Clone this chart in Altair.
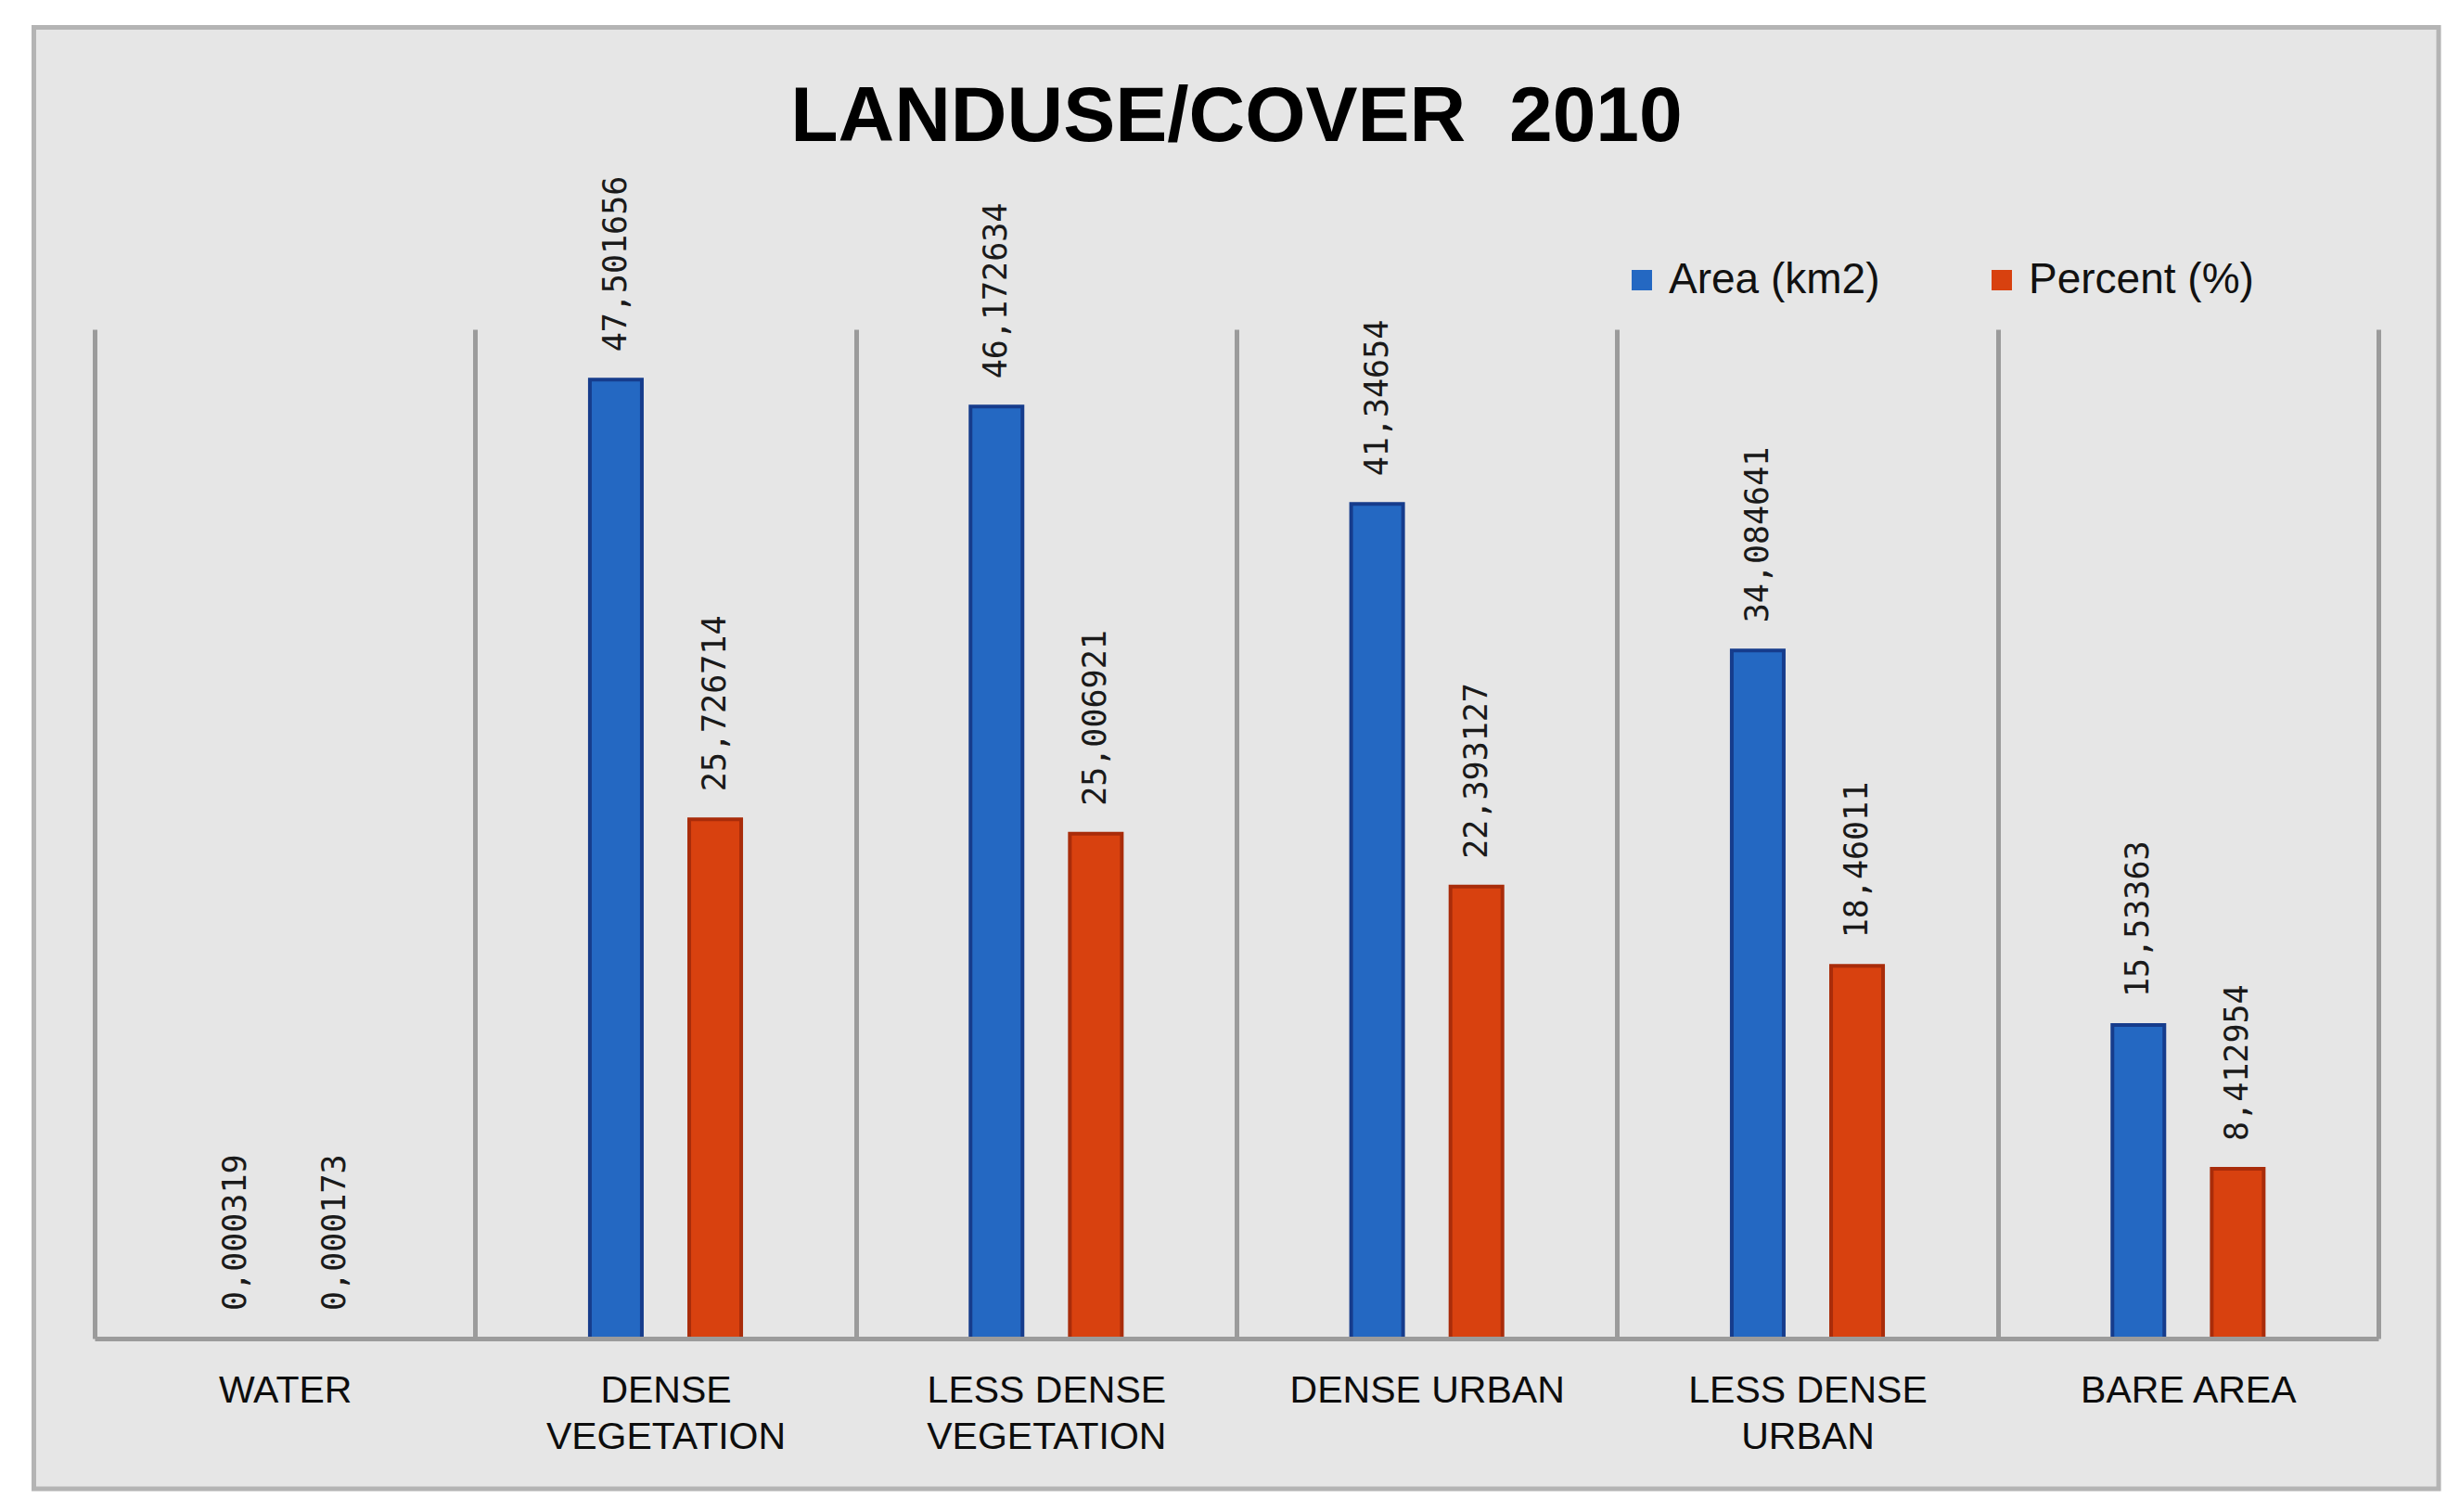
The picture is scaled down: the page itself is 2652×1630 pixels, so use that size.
import altair as alt
import pandas as pd

categories = ["WATER", "DENSE\nVEGETATION", "LESS DENSE\nVEGETATION",
              "DENSE URBAN", "LESS DENSE\nURBAN", "BARE AREA"]
area_km2 = [0.000319, 47.501656, 46.172634, 41.34654, 34.084641, 15.53363]
percent = [0.000173, 25.726714, 25.006921, 22.393127, 18.46011, 8.412954]
series = ["Area (km2)", "Percent (%)"]
title_text = "LANDUSE/COVER \u00a02010"

rows = []
for c, a, p in zip(categories, area_km2, percent):
    rows.append({"category": c, "series": series[0], "value": a})
    rows.append({"category": c, "series": series[1], "value": p})
df = pd.DataFrame(rows)

W, H = 2462, 1088

xenc = alt.X("category:N", sort=categories, title=None,
             scale=alt.Scale(paddingInner=0, paddingOuter=0),
             axis=alt.Axis(labelExpr="split(datum.label, '\\n')",
                           tickBand="extent", grid=True, gridColor="#9b9b9b",
                           gridWidth=5, ticks=False, tickSize=0,
                           domainColor="#9b9b9b", domainWidth=5,
                           labelFont="Liberation Sans", labelFontSize=41,
                           labelColor="#0d0d0d", labelAngle=0,
                           labelBaseline="alphabetic", labelPadding=68,
                           labelLineHeight=50, labelLimit=0, zindex=1))
xoff = alt.XOffset("series:N", sort=series,
                   scale=alt.Scale(range=[123.6, 286.7], paddingInner=0.477,
                                   paddingOuter=0))
yenc = alt.Y("value:Q", scale=alt.Scale(domain=[0, 50], nice=False, zero=True),
             axis=None)

base = alt.Chart(df)

frame = alt.Chart(pd.DataFrame({"f": [0]})).mark_rect(
    fill="#e6e6e6", stroke="#b4b4b4", strokeWidth=5
).encode(x=alt.value(-65.5), x2=alt.value(2527), y=alt.value(-325.5), y2=alt.value(1250))

title = alt.Chart(pd.DataFrame({"t": [title_text]})).mark_text(
    font="Liberation Sans", fontSize=84, fontWeight="bold", color="#000000",
    align="center", baseline="alphabetic"
).encode(x=alt.value(W / 2), y=alt.value(-203), text="t:N")

bars = base.mark_bar(strokeWidth=4).encode(
    x=xenc, xOffset=xoff, y=yenc,
    color=alt.Color("series:N", sort=series,
                    scale=alt.Scale(domain=series, range=["#2468c2", "#d8410f"]),
                    legend=alt.Legend(orient="none", legendX=1645, legendY=-76,
                                      direction="horizontal", title=None,
                                      labelFont="Liberation Sans", labelFontSize=46,
                                      labelColor="#111111", symbolType="square",
                                      symbolSize=484, symbolStrokeWidth=0,
                                      labelOffset=6, columnPadding=108,
                                      labelLimit=0, padding=0)),
    stroke=alt.Stroke("series:N", sort=series,
                      scale=alt.Scale(domain=series, range=["#163c8c", "#a92c0a"]),
                      legend=None),
)

labels = base.transform_calculate(
    label="replace(toString(datum.value), '.', ',')"
).mark_text(angle=270, align="left", baseline="middle", dx=30,
            font="DejaVu Sans Mono", fontSize=35, color="#1a1a1a").encode(
    x=alt.X("category:N", sort=categories),
    xOffset=alt.XOffset("series:N", sort=series),
    y=alt.Y("value:Q"),
    text="label:N",
)

chart = alt.layer(frame, title, bars, labels).properties(
    width=W, height=H,
    autosize=alt.AutoSizeParams(type="none"),
    padding={"left": 94, "top": 347, "right": 72, "bottom": 170},
).configure_view(stroke=None).configure(background="white")

chart.save("out.html", embed_options={"renderer": "svg", "actions": False})
